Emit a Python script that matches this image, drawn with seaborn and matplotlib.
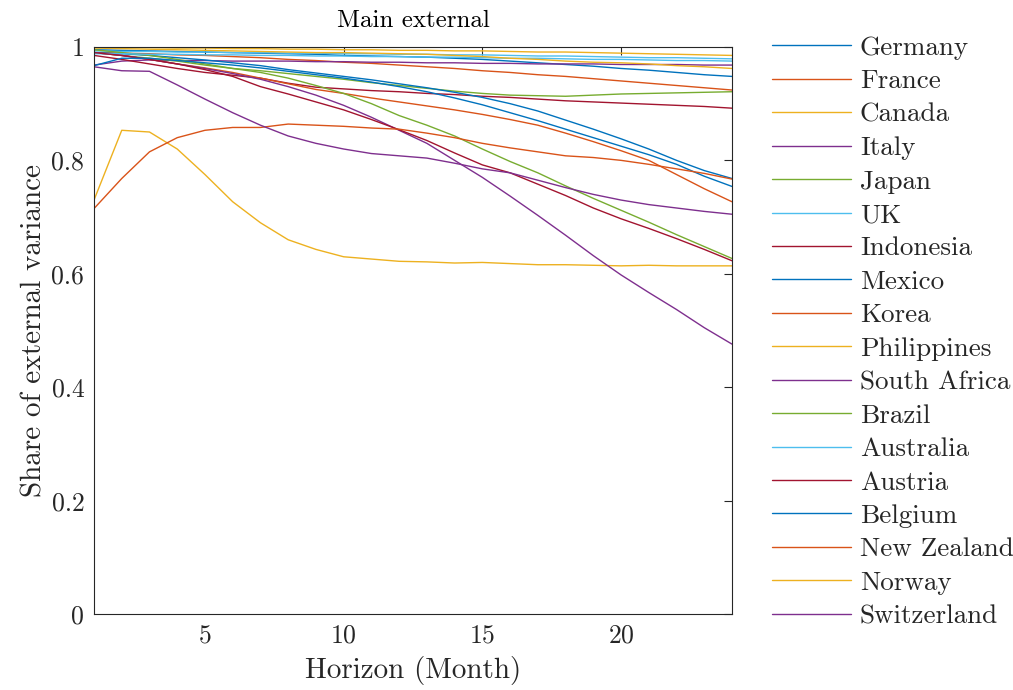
import numpy as np
import pandas as pd
import matplotlib
matplotlib.use("Agg")
import matplotlib.pyplot as plt
from matplotlib.ticker import FuncFormatter
import seaborn as sns

horizon = list(range(1, 25))

countries = ["Germany", "France", "Canada", "Italy", "Japan", "UK", "Indonesia",
             "Mexico", "Korea", "Philippines", "South Africa", "Brazil", "Australia",
             "Austria", "Belgium", "New Zealand", "Norway", "Switzerland"]

germany = [0.995, 0.994, 0.993, 0.992, 0.991, 0.990, 0.989, 0.988, 0.987, 0.985, 0.984, 0.983,
           0.982, 0.980, 0.978, 0.975, 0.972, 0.969, 0.966, 0.962, 0.959, 0.955, 0.951, 0.948]
france = [0.990, 0.989, 0.988, 0.986, 0.985, 0.983, 0.981, 0.978, 0.976, 0.973, 0.971, 0.968,
          0.965, 0.962, 0.958, 0.955, 0.951, 0.948, 0.944, 0.940, 0.936, 0.932, 0.928, 0.924]
canada = [1.000, 0.999, 0.999, 0.998, 0.998, 0.997, 0.997, 0.996, 0.996, 0.995, 0.995, 0.994,
          0.994, 0.993, 0.993, 0.992, 0.991, 0.991, 0.990, 0.989, 0.988, 0.987, 0.986, 0.985]
italy = [0.968, 0.975, 0.977, 0.976, 0.976, 0.975, 0.975, 0.975, 0.974, 0.974, 0.973, 0.973,
         0.972, 0.972, 0.971, 0.971, 0.970, 0.970, 0.970, 0.969, 0.969, 0.969, 0.968, 0.968]
japan = [0.990, 0.985, 0.980, 0.975, 0.968, 0.962, 0.958, 0.953, 0.948, 0.943, 0.937, 0.932,
         0.927, 0.922, 0.918, 0.915, 0.914, 0.913, 0.915, 0.917, 0.918, 0.919, 0.920, 0.921]
uk = [0.993, 0.992, 0.992, 0.991, 0.991, 0.990, 0.990, 0.989, 0.989, 0.988, 0.988, 0.987,
      0.987, 0.986, 0.986, 0.985, 0.984, 0.984, 0.983, 0.982, 0.981, 0.981, 0.980, 0.979]
indonesia = [0.985, 0.978, 0.970, 0.962, 0.955, 0.950, 0.945, 0.936, 0.929, 0.926, 0.923, 0.921,
             0.918, 0.916, 0.913, 0.911, 0.908, 0.905, 0.903, 0.901, 0.899, 0.897, 0.895, 0.892]
mexico = [0.990, 0.988, 0.985, 0.981, 0.977, 0.972, 0.967, 0.960, 0.954, 0.948, 0.942, 0.935,
          0.928, 0.920, 0.911, 0.900, 0.887, 0.871, 0.855, 0.838, 0.820, 0.800, 0.782, 0.768]
korea = [0.990, 0.985, 0.978, 0.970, 0.963, 0.955, 0.945, 0.935, 0.925, 0.918, 0.910, 0.903,
         0.896, 0.889, 0.881, 0.872, 0.862, 0.848, 0.833, 0.817, 0.800, 0.775, 0.750, 0.727]
philippines = [0.730, 0.853, 0.850, 0.820, 0.775, 0.727, 0.690, 0.660, 0.643, 0.630, 0.626, 0.622,
               0.621, 0.619, 0.620, 0.618, 0.616, 0.616, 0.615, 0.614, 0.615, 0.614, 0.614, 0.614]
south_africa = [0.990, 0.985, 0.978, 0.970, 0.962, 0.953, 0.943, 0.930, 0.915, 0.897, 0.876, 0.853,
                0.830, 0.800, 0.770, 0.737, 0.703, 0.668, 0.632, 0.598, 0.567, 0.537, 0.505, 0.476]
brazil = [0.995, 0.990, 0.985, 0.978, 0.970, 0.962, 0.955, 0.945, 0.932, 0.918, 0.900, 0.879,
          0.862, 0.843, 0.820, 0.798, 0.778, 0.755, 0.733, 0.712, 0.691, 0.669, 0.648, 0.627]
australia = [0.988, 0.988, 0.987, 0.987, 0.986, 0.986, 0.985, 0.985, 0.984, 0.984, 0.983, 0.983,
             0.982, 0.982, 0.981, 0.980, 0.980, 0.979, 0.978, 0.978, 0.977, 0.976, 0.976, 0.975]
austria = [0.990, 0.985, 0.978, 0.970, 0.960, 0.948, 0.930, 0.917, 0.903, 0.889, 0.872, 0.854,
           0.835, 0.813, 0.792, 0.778, 0.758, 0.738, 0.716, 0.697, 0.680, 0.662, 0.643, 0.623]
belgium = [0.967, 0.980, 0.980, 0.976, 0.972, 0.968, 0.963, 0.957, 0.951, 0.945, 0.938, 0.930,
           0.921, 0.910, 0.898, 0.884, 0.870, 0.855, 0.840, 0.825, 0.810, 0.793, 0.772, 0.754]
new_zealand = [0.715, 0.768, 0.815, 0.840, 0.853, 0.858, 0.858, 0.864, 0.862, 0.860, 0.857, 0.855,
               0.848, 0.840, 0.830, 0.822, 0.815, 0.808, 0.805, 0.800, 0.793, 0.785, 0.777, 0.767]
norway = [0.998, 0.997, 0.996, 0.995, 0.994, 0.993, 0.992, 0.991, 0.990, 0.990, 0.989, 0.988,
          0.987, 0.985, 0.983, 0.980, 0.978, 0.975, 0.973, 0.972, 0.970, 0.967, 0.965, 0.962]
switzerland = [0.965, 0.958, 0.957, 0.933, 0.908, 0.884, 0.862, 0.843, 0.830, 0.820, 0.812, 0.808,
               0.804, 0.795, 0.785, 0.778, 0.765, 0.752, 0.740, 0.730, 0.722, 0.716, 0.710, 0.705]

series = [germany, france, canada, italy, japan, uk, indonesia, mexico, korea, philippines,
          south_africa, brazil, australia, austria, belgium, new_zealand, norway, switzerland]

# MATLAB default colour order, cycled over the 18 countries
matlab_colors = ["#0072BD", "#D95319", "#EDB120", "#7E2F8E", "#77AC30", "#4DBEEE", "#A2142F"]
palette = [matlab_colors[i % 7] for i in range(len(countries))]

df = pd.DataFrame({
    "Horizon": np.tile(horizon, len(countries)),
    "Share": np.concatenate(series),
    "Country": np.repeat(countries, len(horizon)),
})

sns.set_style("white")
plt.rcParams["font.family"] = ["cmr10", "DejaVu Serif"]
plt.rcParams["mathtext.fontset"] = "cm"
plt.rcParams["axes.formatter.use_mathtext"] = True
plt.rcParams["axes.unicode_minus"] = False

axis_gray = "#262626"
fig = plt.figure(figsize=(10.13, 6.9), dpi=100)
ax = fig.add_axes([0.0928, 0.110, 0.6298, 0.822])

sns.lineplot(data=df, x="Horizon", y="Share", hue="Country", hue_order=countries,
             palette=palette, linewidth=1.0, ax=ax, legend=True)

ax.set_xlim(1, 24)
ax.set_ylim(0, 1)
ax.set_xticks([5, 10, 15, 20])
ax.set_yticks([0, 0.2, 0.4, 0.6, 0.8, 1.0])
ax.yaxis.set_major_formatter(FuncFormatter(lambda v, p: f"{v:g}"))
ax.tick_params(direction="in", length=6, width=0.8, colors=axis_gray,
               labelsize=18.5, top=True, right=True, pad=7)
for s in ax.spines.values():
    s.set_color(axis_gray)
    s.set_linewidth(0.8)

ax.set_xlabel("Horizon (Month)", fontsize=21, color=axis_gray, labelpad=6)
ax.set_ylabel("Share of external variance", fontsize=21, color=axis_gray, labelpad=3)
ax.set_title("Main external", fontsize=18, color="black", pad=14)

sns.move_legend(ax, "upper left", bbox_to_anchor=(0.762, 0.948),
                bbox_transform=fig.transFigure, frameon=False, title=None,
                fontsize=19.5, handlelength=2.92, handletextpad=0.33,
                labelspacing=0.35, borderaxespad=0, borderpad=0)

fig.savefig("out.png", dpi=100, facecolor="white")
